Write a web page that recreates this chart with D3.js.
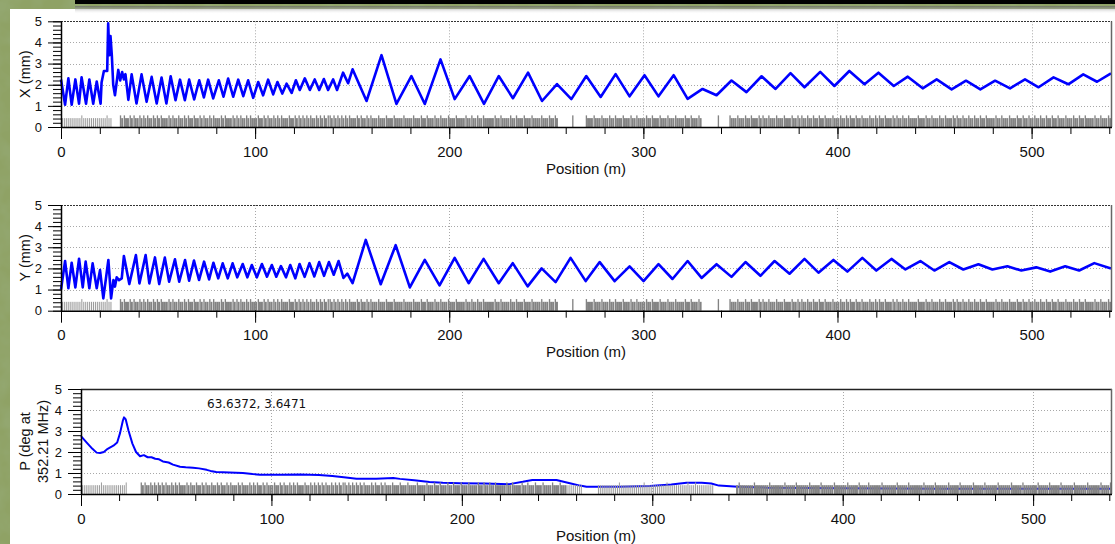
<!DOCTYPE html>
<html><head><meta charset="utf-8">
<script src="https://cdn.jsdelivr.net/npm/d3@7"></script>
<style>html,body{margin:0;padding:0;overflow:hidden;background:#8c9f63}</style>
</head><body>
<svg id="c" width="1115" height="544"></svg>
<script>
// ---------------- DATA ----------------
const xTickValues = [0, 100, 200, 300, 400, 500];
const yTickValues = [0, 1, 2, 3, 4, 5];
const xAxisTitle = "Position (m)";
const panelTitles = [["X (mm)"], ["Y (mm)"], ["P (deg at", "352.21 MHz)"]];
const phaseAnnotation = "63.6372, 3.6471";

// X offset (mm) vs position (m)
const xDeviation = [[0,2.25],[2.1,1.05],[3.8,2.3],[5.5,1.05],[7.4,2.25],[9.3,1.1],[10.6,2.35],[12.9,1.1],[14.6,2.25],[16.6,1.1],[18.4,2.15],[20.4,1.1],[20.9,2.1],[22.1,2.65],[23.8,2.65],[24.3,4.9],[24.9,3.4],[25.5,4.3],[26.2,3.35],[26.9,2.0],[27.8,1.5],[29.5,2.7],[30.5,2.2],[31.5,2.6],[32.4,2.25],[33.2,2.5],[34.7,1.28],[36.4,2.49],[38.9,1.11],[41.5,2.49],[44.1,1.19],[46.7,2.37],[49.3,1.11],[51.8,2.34],[54.3,1.11],[56.5,2.4],[59,1.27],[61.3,2.24],[63.8,1.27],[66,2.24],[68.6,1.3],[71.2,2.21],[73.6,1.4],[75.8,2.24],[78.4,1.35],[81.3,2.21],[83.7,1.43],[86.1,2.29],[88.7,1.43],[91.3,2.24],[93.9,1.46],[96.4,2.21],[99,1.38],[101.6,2.13],[104.1,1.5],[106.7,2.24],[109.3,1.54],[111.5,2.13],[114,1.58],[116.2,2.05],[118.8,1.61],[121,2.21],[123,1.75],[125.6,2.3],[128.2,1.75],[130.7,2.25],[133,1.75],[135.4,2.27],[137.6,1.75],[140.2,2.25],[142.2,1.75],[145.3,2.57],[147.9,2.07],[150.2,2.73],[157.4,1.23],[165.1,3.4],[172.8,1.09],[180.5,2.41],[187.4,1.09],[195.5,3.2],[202.8,1.32],[210.5,2.41],[217.9,1.09],[225.5,2.41],[232.8,1.36],[240.6,2.57],[247.8,1.23],[255.5,2.03],[262.9,1.32],[270.6,2.41],[278,1.42],[285.7,2.5],[292.9,1.45],[300.6,2.45],[307.8,1.45],[315.6,2.45],[322.8,1.33],[330.5,1.8],[337.7,1.5],[345.4,2.2],[353.1,1.65],[360.9,2.4],[368.1,1.8],[375.8,2.55],[383,1.88],[391.1,2.61],[398.4,1.94],[406.1,2.65],[413.9,2.02],[421.1,2.57],[429,1.94],[436.2,2.38],[443.9,1.83],[451.1,2.25],[458.8,1.78],[466.2,2.19],[473.6,1.78],[481.2,2.19],[488.9,1.83],[496.6,2.25],[503.6,1.88],[511.3,2.35],[518.9,2.02],[526.6,2.49],[533.7,2.14],[540.9,2.54]];

// Y offset (mm) vs position (m)
const yDeviation = [[0,1.0],[2.1,2.35],[3.8,1.06],[5.5,2.27],[7.4,1.1],[9.3,2.46],[11.2,1.1],[12.7,2.32],[14.6,1.06],[16.3,2.24],[18.4,1.06],[20.1,1.92],[21.8,0.58],[24.4,2.4],[25.8,0.58],[27,1.45],[27.8,1.14],[28.7,1.58],[29.9,1.45],[31.3,1.53],[32.4,2.59],[35.2,1.26],[38.6,2.63],[40.4,1.29],[43.6,2.63],[45.5,1.29],[48.4,2.52],[50.6,1.26],[53.5,2.51],[55.7,1.37],[58.7,2.43],[60.9,1.37],[63.9,2.4],[66,1.42],[68.5,2.37],[71.1,1.45],[73.7,2.32],[76.3,1.48],[78.5,2.27],[81,1.53],[83.3,2.24],[85.9,1.53],[88.4,2.24],[90.8,1.58],[93.6,2.21],[96,1.58],[98.3,2.16],[100.9,1.58],[103.5,2.21],[106.1,1.61],[108.6,2.16],[110.9,1.61],[113.3,2.11],[115.9,1.58],[118.1,2.16],[120.7,1.53],[122.9,2.21],[125.5,1.6],[128,2.25],[130.5,1.62],[133,2.3],[135.5,1.65],[138,2.3],[140.5,1.7],[143,2.35],[145.5,1.55],[147.5,1.75],[150.2,1.3],[157,3.35],[164.7,1.25],[172.4,3.1],[179.7,1.1],[187.4,2.4],[195,1.2],[202.8,2.5],[210,1.3],[217.7,2.45],[225.5,1.3],[232.7,2.25],[240.4,1.15],[247.6,2.0],[254.8,1.35],[262.5,2.5],[270.3,1.4],[277.5,2.3],[285.2,1.4],[292.9,2.1],[300.1,1.4],[307.8,2.2],[315,1.5],[322.8,2.35],[330,1.55],[337.7,2.2],[345.4,1.6],[352.6,2.3],[360.3,1.65],[367.6,2.35],[375.3,1.75],[383,2.45],[390.2,1.8],[397.9,2.4],[405.1,1.85],[412.8,2.5],[420,1.9],[427.8,2.45],[435,1.95],[442.7,2.35],[449.9,1.9],[457.6,2.3],[464.8,1.95],[472.6,2.2],[479.8,1.95],[487.5,2.1],[494.7,1.9],[502.4,2.05],[509.6,1.85],[517.3,2.1],[524.5,1.9],[532.3,2.25],[540.9,2.0]];

// Phase (deg at 352.21 MHz) vs position (m)
const phaseDrift = [[0,2.76],[3,2.45],[6,2.15],[8.2,1.97],[10,1.95],[12,2.0],[14,2.15],[17,2.3],[19,2.45],[20.5,2.9],[22,3.5],[22.6,3.65],[23.5,3.55],[25,3.0],[27,2.4],[28.9,2.0],[31,1.8],[33,1.85],[35,1.75],[37,1.75],[39,1.68],[41,1.65],[43,1.55],[46,1.5],[48.3,1.4],[52,1.3],[55,1.27],[58.8,1.25],[62,1.22],[66,1.15],[68,1.1],[71,1.05],[78,1.02],[85,1.0],[90,0.95],[94,0.92],[105,0.92],[115,0.93],[125,0.9],[132,0.86],[138,0.8],[144.7,0.73],[155,0.73],[164,0.76],[167.5,0.72],[175,0.65],[183,0.57],[190,0.53],[199,0.51],[212,0.5],[225,0.47],[232,0.58],[237,0.67],[249.7,0.67],[256.7,0.51],[262,0.4],[265.5,0.35],[283,0.35],[298.7,0.38],[310,0.45],[318,0.54],[326,0.54],[331,0.5],[335,0.4],[345,0.35],[360,0.3],[400,0.27],[450,0.25],[500,0.25],[540.9,0.25]];

// Sample-marker strip, one code per metre: 0 none, l/L light short/tall, d/D dark short/tall
const markerStripXY = [
"llllllllll","Llllllllll","lllLll0000","DdDddDdDdd","DdDdDddDdD","dDdddDdDdd","DddDdDddDd","dDdDddDdDd","ddDdDdddDd","DdDddDdDdd",
"dDddDdDddD","dDdDdddDdd","DdDdDdDdDd","dDdDdDdDDd","DdDdDdDdDd","ddDdDddDdD","dddDdddDdd","dDddddDddd","dDdddDddDd","ddDddDdddD",
"dddDddddDd","dDddDddDdd","dddDddDddd","dDddDdddDd","ddDddddDdd","dDddDd0000","000D000000","DdddDdddDd","ddDddDdddD","dddDddDddd",
"dDddDdddDd","ddDdddDddd","dDddDdddDd","00000000D0","0000DdddDd","ddDddDdddD","dDddDdddDd","ddDdddDddD","dDddDddDdd","DddDdddDdd",
"dDddDdDddD","ddDdddDddD","dDddDdddDd","DddDddDddd","dDdddDddDd","ddDddDdddD","dDddDddDdd","DddDddDddd","dDddDdddDd","ddDddDddDd",
"dDddDddDdd","DddDdddDdd","dDddDddDdd","ddDddDdddD","d"].join("");
const markerStripP = [
"llllllllll","Llllllllll","lllL000000","0DdDddDdDd","DdDdDddDdD","dDdddDdDdd","DddDdDddDd","dDdDddDdDd","ddDdDdddDd","DdDddDdDdd",
"dDddDdDddD","dDdDdddDdd","DdDdDdDdDd","dDdDdDdDDd","DdDdDdDdDd","ddDdDddDdD","dddDdddDdd","dDddddDddd","dDdddDddDd","ddDddDdddD",
"dddDddddDd","dDddDddDdd","dddDddDddd","dDddDdddDd","ddDddddDdd","dDdddlllll","lll0000000","0lllllllll","llLlllllll","lllllLllll",
"lllllllLll","llllllllLl","llLlllllll","ll00000000","0000dDdddd","dddDdddddd","dDdddddddD","dddddDdddd","ddDdddddDd","dddddDdddd",
"ddDdddddDd","dddDdddddd","DdddddddDd","ddddDddddd","ddDdddddDd","dddddDdddd","dDddddddDd","ddddDddddd","dDddddddDd","ddddDddddd",
"ddDdddddDd","ddddDddddd","dDddddddDd","dddddDdddd","D"].join("");

// ---------------- DRAWING ----------------
const svg = d3.select("#c");
const W = 1115, H = 544;
const defs = svg.append("defs");
const f = defs.append("filter").attr("id","noise").attr("x",0).attr("y",0).attr("width","100%").attr("height","100%");
f.append("feTurbulence").attr("type","fractalNoise").attr("baseFrequency","0.045").attr("numOctaves",3).attr("seed",4).attr("result","t");
f.append("feColorMatrix").attr("in","t").attr("type","matrix")
  .attr("values","0 0 0 0 0.30  0 0 0 0 0.40  0 0 0 0 0.18  1.6 0 0 0 -0.55");
const sh = defs.append("linearGradient").attr("id","shadow").attr("x1",0).attr("y1",0).attr("x2",0).attr("y2",1);
sh.append("stop").attr("offset","0").attr("stop-color","#666").attr("stop-opacity",0.75);
sh.append("stop").attr("offset","1").attr("stop-color","#fff").attr("stop-opacity",0);

svg.append("rect").attr("width",W).attr("height",H).attr("fill","#8fa265");
svg.append("rect").attr("width",W).attr("height",H).attr("filter","url(#noise)");
svg.append("rect").attr("x",10).attr("y",9).attr("width",W-10).attr("height",H-9).attr("fill","#fff");
svg.append("rect").attr("x",75).attr("y",0).attr("width",W-75).attr("height",4).attr("fill","#000");
svg.append("rect").attr("x",75).attr("y",6).attr("width",W-75).attr("height",8).attr("fill","url(#shadow)");

const FONT = "'Liberation Sans', Arial, sans-serif";

function drawPanel(cfg) {
  const x = d3.scaleLinear().domain([0, 540.9]).range([cfg.left, cfg.right]);
  const y = d3.scaleLinear().domain([0, 5]).range([cfg.bottom, cfg.top]);
  const g = svg.append("g");

  // grid
  g.append("g").selectAll("line").data(yTickValues.filter(v => v > 0 && v < 5)).join("line")
    .attr("x1", cfg.left).attr("x2", cfg.right).attr("y1", d => Math.round(y(d)) + 0.5).attr("y2", d => Math.round(y(d)) + 0.5)
    .attr("stroke", "#a8a8a8").attr("stroke-dasharray", "1,2");
  g.append("g").selectAll("line").data(xTickValues.filter(v => v > 0)).join("line")
    .attr("y1", cfg.top).attr("y2", cfg.bottom).attr("x1", d => Math.round(x(d)) + 0.5).attr("x2", d => Math.round(x(d)) + 0.5)
    .attr("stroke", "#a8a8a8").attr("stroke-dasharray", "1,2");

  const lineGen = d3.line().x(d => x(d[0])).y(d => y(d[1]));
  const isTall = c => c === "L" || c === "D";
  const isLight = c => c === "l" || c === "L";
  const gapOf = c => isLight(c) ? 0.9 : (isTall(c) ? 0.6 : 0);
  const drawStrip = () => {
    const codes = cfg.strip.split("");
    g.append("g").selectAll("rect").data(codes.map((c, i) => ({c, i})).filter(d => d.c !== "0")).join("rect")
      .attr("x", d => x(d.i) + gapOf(d.c))
      .attr("width", d => x(d.i + 1) - x(d.i) - gapOf(d.c))
      .attr("y", d => y(isTall(d.c) ? 0.55 : 0.42))
      .attr("height", d => cfg.bottom - y(isTall(d.c) ? 0.55 : 0.42))
      .attr("fill", d => isLight(d.c) ? "#9c9c9c" : "#838383");
  };
  if (!cfg.stripOnTop) drawStrip();
  g.append("path").datum(cfg.data).attr("d", lineGen).attr("fill", "none")
    .attr("stroke", "#0000ff").attr("stroke-width", cfg.lw).attr("stroke-linejoin", "round");
  if (cfg.stripOnTop) drawStrip();

  // top and right borders
  g.append("line").attr("x1", cfg.left).attr("x2", cfg.right + 1).attr("y1", Math.round(cfg.top) + 0.5).attr("y2", Math.round(cfg.top) + 0.5)
    .attr("stroke", cfg.topSolid ? "#222" : "#333").attr("stroke-width", cfg.topSolid ? 1.5 : 1.2)
    .attr("stroke-dasharray", cfg.topSolid ? null : "2,1");
  g.append("line").attr("x1", cfg.right + 0.5).attr("x2", cfg.right + 0.5).attr("y1", cfg.top).attr("y2", cfg.bottom)
    .attr("stroke", "#666").attr("stroke-width", 1.5);

  // bottom axis
  const ax1 = g.append("g").attr("transform", `translate(0,${cfg.bottom})`)
    .call(d3.axisBottom(x).tickValues(d3.range(0, 541, 20)).tickSize(7).tickSizeOuter(0).tickFormat(""));
  const ax2 = g.append("g").attr("transform", `translate(0,${cfg.bottom})`)
    .call(d3.axisBottom(x).tickValues(xTickValues).tickSize(12).tickSizeOuter(0).tickPadding(7).tickFormat(d3.format("d")));
  [ax1, ax2].forEach(a => { a.select(".domain").remove(); a.selectAll("line").attr("stroke", "#000"); });
  ax2.selectAll("text").attr("font-family", FONT).attr("font-size", 15).attr("fill", "#111");
  g.append("line").attr("x1", cfg.left).attr("x2", cfg.right + 1).attr("y1", cfg.bottom + 0.5).attr("y2", cfg.bottom + 0.5)
    .attr("stroke", "#000").attr("stroke-width", 1.5);

  // left axis
  const ay1 = g.append("g").attr("transform", `translate(${cfg.left},0)`)
    .call(d3.axisLeft(y).tickValues(d3.range(0, 5.01, 0.2)).tickSize(8).tickSizeOuter(0).tickFormat(""));
  const ay2 = g.append("g").attr("transform", `translate(${cfg.left},0)`)
    .call(d3.axisLeft(y).tickValues(yTickValues).tickSize(13).tickSizeOuter(0).tickPadding(6).tickFormat(d3.format("d")));
  [ay1, ay2].forEach(a => { a.select(".domain").remove(); a.selectAll("line").attr("stroke", "#000"); });
  ay2.selectAll("text").attr("font-family", FONT).attr("font-size", 13).attr("fill", "#111");
  g.append("line").attr("x1", cfg.left + 0.5).attr("x2", cfg.left + 0.5).attr("y1", cfg.top).attr("y2", cfg.bottom + 1)
    .attr("stroke", "#000").attr("stroke-width", 1.5);

  // titles
  g.append("text").attr("x", (cfg.left + cfg.right) / 2).attr("y", cfg.bottom + 41).attr("text-anchor", "middle")
    .attr("dominant-baseline", "central").attr("font-family", FONT).attr("font-size", 15).attr("fill", "#111").text(xAxisTitle);
  const cy = (cfg.top + cfg.bottom) / 2;
  cfg.title.forEach((t, i) => {
    g.append("text").attr("transform", `translate(${cfg.titleX[i]},${cy}) rotate(-90)`).attr("text-anchor", "middle")
      .attr("dominant-baseline", "central").attr("font-family", FONT).attr("font-size", 14.5).attr("fill", "#111").text(t);
  });
  return {g, x, y};
}

drawPanel({left: 61, right: 1111, top: 21.3, bottom: 127, data: xDeviation, strip: markerStripXY, lw: 2.6, title: panelTitles[0], titleX: [24.5]});
drawPanel({left: 61, right: 1111, top: 205, bottom: 310.7, data: yDeviation, strip: markerStripXY, lw: 2.6, title: panelTitles[1], titleX: [24.5]});
const p3 = drawPanel({left: 81, right: 1111, top: 389, bottom: 494, data: phaseDrift, strip: markerStripP, lw: 2, title: panelTitles[2], titleX: [25, 43], stripOnTop: true, topSolid: true});
p3.g.append("text").attr("x", 207).attr("y", 408).attr("font-family", "'DejaVu Sans', Verdana, sans-serif").attr("font-size", 12)
  .attr("fill", "#111").text(phaseAnnotation);
</script>
</body></html>
